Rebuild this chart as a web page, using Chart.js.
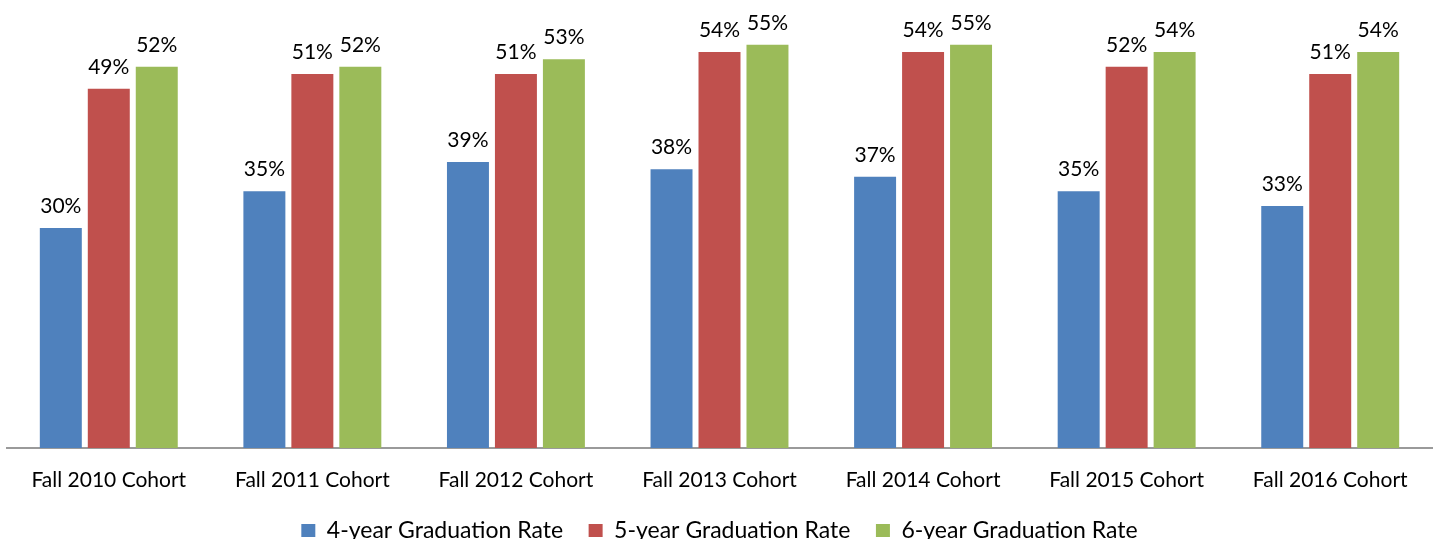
<!DOCTYPE html>
<html>
<head>
<meta charset="utf-8">
<script src="https://cdn.jsdelivr.net/npm/chart.js@4"></script>
<style>
  html, body { margin: 0; padding: 0; background: #fff; }
  #wrap { width: 1439px; height: 539px; }
</style>
</head>
<body>
<div id="wrap"><canvas id="gradChart" width="1439" height="539"></canvas></div>
<script>
const cohorts = ['Fall 2010 Cohort', 'Fall 2011 Cohort', 'Fall 2012 Cohort', 'Fall 2013 Cohort', 'Fall 2014 Cohort', 'Fall 2015 Cohort', 'Fall 2016 Cohort'];
const rate4 = [30, 35, 39, 38, 37, 35, 33];
const rate5 = [49, 51, 51, 54, 54, 52, 51];
const rate6 = [52, 52, 53, 55, 55, 54, 54];
const seriesNames = ['4-year Graduation Rate', '5-year Graduation Rate', '6-year Graduation Rate'];

const fontFamily = "Lato, 'Open Sans', sans-serif";

// draws the % values above each bar
const valueLabels = {
    id: 'valueLabels',
    afterDatasetsDraw(chart) {
        const ctx = chart.ctx;
        ctx.save();
        ctx.font = `21px ${fontFamily}`;
        ctx.fillStyle = '#000';
        ctx.textAlign = 'center';
        ctx.textBaseline = 'alphabetic';
        chart.data.datasets.forEach((ds, i) => {
            chart.getDatasetMeta(i).data.forEach((bar, j) => {
                ctx.fillText(ds.data[j] + '%', bar.x, bar.y - 15);
            });
        });
        ctx.restore();
    }
};

const ctx = document.getElementById('gradChart').getContext('2d');
const gradChart = new Chart(ctx, {
    type: 'bar',
    data: {
        labels: cohorts,
        datasets: [
            { label: seriesNames[0], data: rate4, backgroundColor: '#4F81BD' },
            { label: seriesNames[1], data: rate5, backgroundColor: '#C0504D' },
            { label: seriesNames[2], data: rate6, backgroundColor: '#9BBB59' }
        ]
    },
    options: {
        responsive: false,
        animation: false,
        devicePixelRatio: 1,
        layout: { padding: { left: 7, right: 7, top: 8, bottom: -13 } },
        datasets: {
            bar: { categoryPercentage: 0.707, barPercentage: 0.875 }
        },
        scales: {
            x: {
                grid: { display: false },
                border: { color: '#9a9a9a', width: 2 },
                ticks: { color: '#000', font: { family: fontFamily, size: 21 }, padding: 12 },
                afterFit(scale) { scale.height = 69; }
            },
            y: {
                display: false,
                min: 0,
                max: 60
            }
        },
        plugins: {
            legend: {
                position: 'bottom',
                labels: {
                    color: '#000',
                    font: { family: fontFamily, size: 23 },
                    boxWidth: 14,
                    boxHeight: 13,
                    padding: 2,
                    // wider spacing between legend entries
                    generateLabels(chart) {
                        const items = Chart.defaults.plugins.legend.labels.generateLabels(chart);
                        items.forEach((it, i) => {
                            if (i < items.length - 1) it.text = it.text + '    ';
                        });
                        return items;
                    }
                }
            },
            tooltip: { enabled: false }
        }
    },
    plugins: [valueLabels]
});
</script>
</body>
</html>
